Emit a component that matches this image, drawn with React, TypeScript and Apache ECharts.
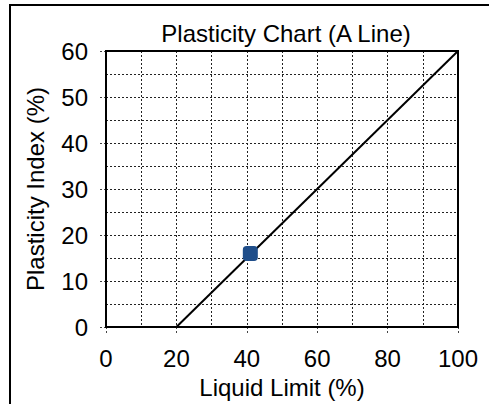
import React, { useEffect, useRef } from "react";
import * as echarts from "echarts";

const titleText = "Plasticity Chart (A Line)";
const xName = "Liquid Limit (%)";
const yName = "Plasticity Index (%)";
const aLineLL = [20, 100];
const aLinePI = [0, 60];
const sampleLL = [41];
const samplePI = [16];

const FONT = "'Liberation Sans', Arial, sans-serif";

export default function App() {
  const ref = useRef<HTMLDivElement>(null);
  useEffect(() => {
    if (!ref.current) return;
    const chart = echarts.init(ref.current, undefined, { renderer: "svg" });
    const gridLine = { show: true, lineStyle: { color: "#222", type: [2, 2] as any, width: 1 } };
    chart.setOption({
      animation: false,
      backgroundColor: "#fff",
      title: {
        text: titleText,
        left: 281,
        textAlign: "center",
        top: 16,
        textStyle: { fontFamily: FONT, fontSize: 24, fontWeight: "normal", color: "#000" },
      },
      graphic: [
        {
          type: "rect",
          shape: { x: 10, y: 5, width: 700, height: 700 },
          style: { fill: "none", stroke: "#000", lineWidth: 2 },
          silent: true,
          z: 100,
        },
      ],
      grid: {
        left: 106,
        right: 31,
        top: 51,
        bottom: 67,
        show: true,
        borderColor: "#000",
        borderWidth: 2,
        z: 3,
      },
      xAxis: {
        type: "value",
        min: 0,
        max: 100,
        interval: 20,
        name: xName,
        nameLocation: "middle",
        nameGap: 48,
        nameTextStyle: { fontFamily: FONT, fontSize: 24, color: "#000" },
        axisLine: { show: true, lineStyle: { color: "#000", width: 2 } },
        axisTick: { show: true, length: 6, lineStyle: { color: "#444", type: [2, 2] as any } },
        axisLabel: { fontFamily: FONT, fontSize: 24, color: "#000", margin: 19 },
        splitLine: gridLine,
        minorTick: { show: false, splitNumber: 2 },
        minorSplitLine: gridLine,
      },
      yAxis: {
        type: "value",
        min: 0,
        max: 60,
        interval: 10,
        name: yName,
        nameLocation: "middle",
        nameGap: 59,
        nameTextStyle: { fontFamily: FONT, fontSize: 24, color: "#000" },
        axisLine: { show: true, lineStyle: { color: "#000", width: 2 } },
        axisTick: { show: true, length: 6, lineStyle: { color: "#444", type: [2, 2] as any } },
        axisLabel: { fontFamily: FONT, fontSize: 24, color: "#000", margin: 18 },
        splitLine: gridLine,
        minorTick: { show: false, splitNumber: 2 },
        minorSplitLine: gridLine,
      },
      series: [
        {
          type: "line",
          data: aLineLL.map((x, i) => [x, aLinePI[i]]),
          showSymbol: false,
          symbol: "none",
          lineStyle: { color: "#000", width: 2 },
          z: 4,
        },
        {
          type: "scatter",
          data: sampleLL.map((x, i) => [x, samplePI[i]]),
          symbol: "roundRect",
          symbolSize: 15,
          itemStyle: { color: "#1f4e8a", opacity: 1 },
          z: 5,
        },
      ],
    });
    return () => chart.dispose();
  }, []);
  return (
    <div
      ref={ref}
      style={{ position: "fixed", left: 0, top: 0, width: 489, height: 404 }}
    />
  );
}
